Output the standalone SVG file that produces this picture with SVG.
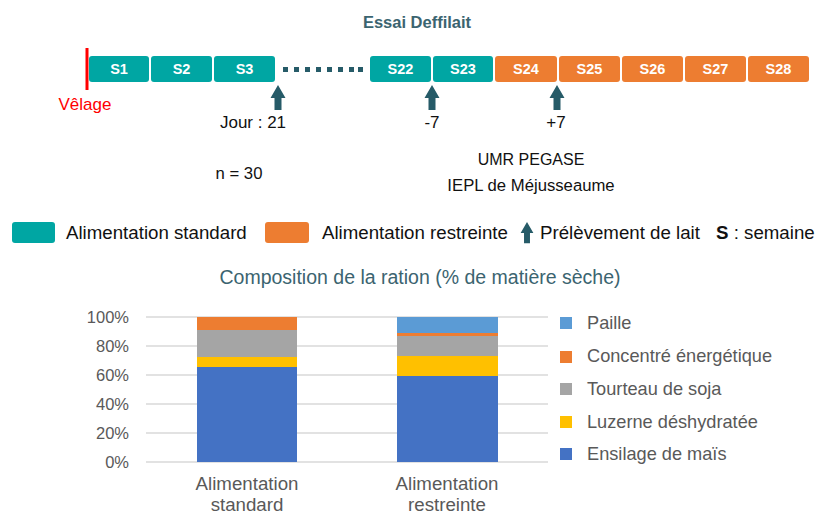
<svg xmlns="http://www.w3.org/2000/svg" width="820" height="515" viewBox="0 0 820 515">
  <defs>
    <style>
      text { font-family: "Liberation Sans", Arial, sans-serif; }
      .wk { fill: #00A6A3; }
      .wr { fill: #ED7D31; }
      .wl { fill: #fff; font-weight: bold; font-size: 14.5px; text-anchor: middle; }
      .lbl { fill: #111; font-size: 17px; }
      .big { font-size: 18.7px; }
      .mid { text-anchor: middle; }
      .pin { fill: #265B68; }
      .grid { stroke: #D9D9D9; stroke-width: 1.5; }
      .ax { fill: #595959; font-size: 16.5px; text-anchor: end; }
      .cat { fill: #595959; font-size: 18.7px; text-anchor: middle; }
      .leg { fill: #595959; font-size: 18.2px; }
      .tt { fill: #3B6470; }
    </style>
    <path id="pin" d="M0,0 L7.5,13 L3.5,13 L3.5,25 L-3.5,25 L-3.5,13 L-7.5,13 Z"/>
  </defs>

  <rect width="820" height="515" fill="#fff"/>

  <!-- Timeline -->
  <text class="tt" x="417" y="28" style="font-size:16.5px;font-weight:bold" text-anchor="middle">Essai Deffilait</text>
  <rect x="85.5" y="48" width="3" height="42" fill="#FF0000"/>
  <text x="85" y="110" style="font-size:17px" fill="#FF0000" text-anchor="middle">Vêlage</text>

  <g id="weeks">
    <g id="s1"><rect class="wk" x="89" y="56" width="60" height="26" rx="3"/><text class="wl" x="119" y="74">S1</text></g>
    <g id="s2"><rect class="wk" x="151" y="56" width="61" height="26" rx="3"/><text class="wl" x="181.5" y="74">S2</text></g>
    <g id="s3"><rect class="wk" x="214" y="56" width="61" height="26" rx="3"/><text class="wl" x="244.5" y="74">S3</text></g>
    <g id="s22"><rect class="wk" x="370" y="56" width="61" height="26" rx="3"/><text class="wl" x="400.5" y="74">S22</text></g>
    <g id="s23"><rect class="wk" x="433" y="56" width="60" height="26" rx="3"/><text class="wl" x="463" y="74">S23</text></g>
    <g id="s24"><rect class="wr" x="495" y="56" width="62" height="26" rx="3"/><text class="wl" x="526" y="74">S24</text></g>
    <g id="s25"><rect class="wr" x="559" y="56" width="61" height="26" rx="3"/><text class="wl" x="589.5" y="74">S25</text></g>
    <g id="s26"><rect class="wr" x="622" y="56" width="61" height="26" rx="3"/><text class="wl" x="652.5" y="74">S26</text></g>
    <g id="s27"><rect class="wr" x="685" y="56" width="61" height="26" rx="3"/><text class="wl" x="715.5" y="74">S27</text></g>
    <g id="s28"><rect class="wr" x="748" y="56" width="61" height="26" rx="3"/><text class="wl" x="778.5" y="74">S28</text></g>
  </g>

  <!-- dotted gap -->
  <g id="gap" class="pin">
    <rect x="283" y="67" width="5" height="5"/>
    <rect x="294" y="67" width="5" height="5"/>
    <rect x="305" y="67" width="5" height="5"/>
    <rect x="316" y="67" width="5" height="5"/>
    <rect x="327" y="67" width="5" height="5"/>
    <rect x="338" y="67" width="5" height="5"/>
    <rect x="349" y="67" width="5" height="5"/>
    <rect x="358" y="67" width="5" height="5"/>
  </g>

  <!-- milk sampling markers -->
  <g id="connectors" class="pin">
    <use href="#pin" x="278" y="85"/>
    <use href="#pin" x="432" y="85"/>
    <use href="#pin" x="557" y="85"/>
  </g>
  <text class="lbl mid" x="253" y="128">Jour : 21</text>
  <text class="lbl mid" x="432" y="128">-7</text>
  <text class="lbl mid" x="556" y="128">+7</text>

  <text class="lbl mid" x="239" y="179" style="font-size:16.7px">n = 30</text>
  <text class="lbl mid" x="531" y="165" style="font-size:16px">UMR PEGASE</text>
  <text class="lbl mid" x="531" y="191" style="font-size:16.7px">IEPL de Méjusseaume</text>

  <!-- Timeline legend -->
  <g id="legend-top">
    <rect class="wk" x="12" y="222" width="43" height="21" rx="3"/>
    <text class="lbl big" x="66" y="239">Alimentation standard</text>
    <rect class="wr" x="265" y="222" width="44" height="21" rx="3"/>
    <text class="lbl big" x="322" y="239">Alimentation restreinte</text>
    <use class="pin" href="#pin" transform="translate(527 222) scale(0.85)"/>
    <text class="lbl big" x="540" y="239">Prélèvement de lait</text>
    <text class="lbl big" x="716" y="239"><tspan font-weight="bold">S</tspan> : semaine</text>
  </g>

  <!-- Chart -->
  <text class="tt" x="420" y="284" style="font-size:19.5px" text-anchor="middle">Composition de la ration (% de matière sèche)</text>

  <g id="grid">
    <line class="grid" x1="146" y1="317" x2="548" y2="317"/>
    <line class="grid" x1="146" y1="346" x2="548" y2="346"/>
    <line class="grid" x1="146" y1="375" x2="548" y2="375"/>
    <line class="grid" x1="146" y1="404" x2="548" y2="404"/>
    <line class="grid" x1="146" y1="433" x2="548" y2="433"/>
    <line class="grid" x1="146" y1="462" x2="548" y2="462"/>
  </g>
  <g id="y-axis">
    <text class="ax" x="129" y="323">100%</text>
    <text class="ax" x="129" y="352">80%</text>
    <text class="ax" x="129" y="381">60%</text>
    <text class="ax" x="129" y="410">40%</text>
    <text class="ax" x="129" y="439">20%</text>
    <text class="ax" x="129" y="468">0%</text>
  </g>

  <g id="bar-standard">
    <rect x="197" y="367" width="100" height="95" fill="#4472C4"/>
    <rect x="197" y="357" width="100" height="10" fill="#FFC000"/>
    <rect x="197" y="330" width="100" height="27" fill="#A5A5A5"/>
    <rect x="197" y="317" width="100" height="13" fill="#ED7D31"/>
  </g>
  <g id="bar-restreinte">
    <rect x="397" y="376" width="101" height="86" fill="#4472C4"/>
    <rect x="397" y="356" width="101" height="20" fill="#FFC000"/>
    <rect x="397" y="336" width="101" height="20" fill="#A5A5A5"/>
    <rect x="397" y="333" width="101" height="3" fill="#ED7D31"/>
    <rect x="397" y="317" width="101" height="16" fill="#5B9BD5"/>
  </g>

  <text class="cat" x="247" y="490">Alimentation</text>
  <text class="cat" x="247" y="511">standard</text>
  <text class="cat" x="447" y="490">Alimentation</text>
  <text class="cat" x="447" y="511">restreinte</text>

  <g id="legend-chart">
    <rect x="560" y="317" width="12" height="12" fill="#5B9BD5"/>
    <text class="leg" x="587" y="329">Paille</text>
    <rect x="560" y="351" width="12" height="12" fill="#ED7D31"/>
    <text class="leg" x="587" y="362">Concentré énergétique</text>
    <rect x="560" y="383" width="12" height="12" fill="#A5A5A5"/>
    <text class="leg" x="587" y="395">Tourteau de soja</text>
    <rect x="560" y="416" width="12" height="12" fill="#FFC000"/>
    <text class="leg" x="587" y="428">Luzerne déshydratée</text>
    <rect x="560" y="448" width="12" height="12" fill="#4472C4"/>
    <text class="leg" x="587" y="460">Ensilage de maïs</text>
  </g>
</svg>
